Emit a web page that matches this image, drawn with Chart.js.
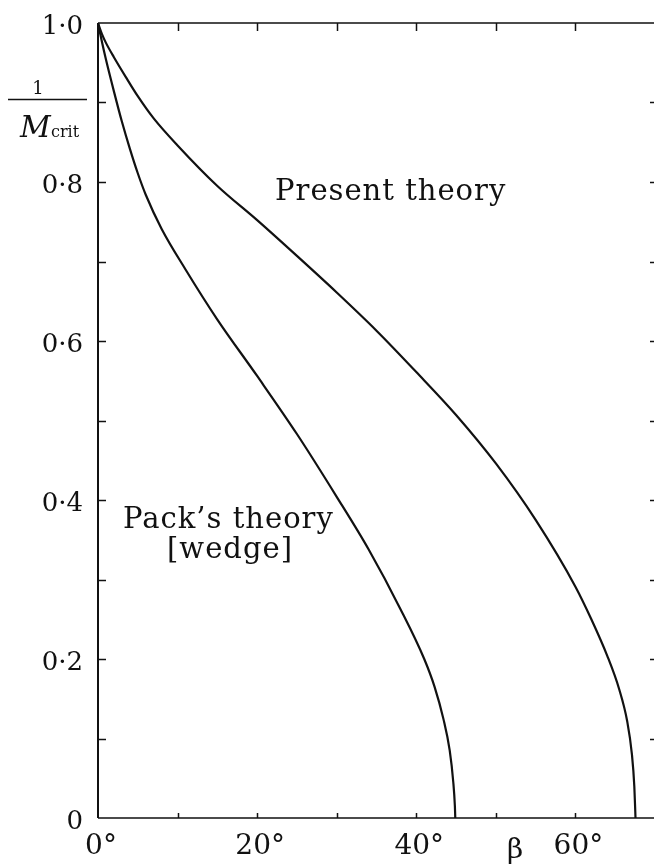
<!DOCTYPE html>
<html>
<head>
<meta charset="utf-8">
<script src="https://cdn.jsdelivr.net/npm/chart.js@4"></script>
<style>
  html, body { margin: 0; padding: 0; background: #fff; overflow: hidden; }
  #wrap { width: 660px; height: 864px; }
</style>
</head>
<body>
<div id="wrap"><canvas id="critChart"></canvas></div>
<script>
// wedge angle beta (deg) vs 1/M_crit
const presentBeta = [0, 0.5, 1, 2, 3.5, 5, 7, 10, 15, 20, 25, 30, 35, 40, 45, 50, 55, 60, 62, 64, 65.5, 66.5, 67.1, 67.4, 67.55];
const presentInv  = [1.0, 0.986, 0.975, 0.957, 0.932, 0.908, 0.880, 0.846, 0.795, 0.752, 0.707, 0.661, 0.613, 0.561, 0.507, 0.446, 0.375, 0.291, 0.250, 0.204, 0.162, 0.122, 0.080, 0.040, 0];

const packBeta = [0, 0.5, 1, 2, 3, 4, 5, 6, 8, 11, 15, 20, 25, 30, 34, 38, 41, 42.3, 43.4, 44.2, 44.65, 44.85, 44.9];
const packInv  = [1.0, 0.976, 0.954, 0.914, 0.876, 0.842, 0.811, 0.784, 0.741, 0.690, 0.627, 0.556, 0.483, 0.404, 0.338, 0.263, 0.200, 0.165, 0.125, 0.085, 0.045, 0.015, 0];

const xTickValues = [0, 20, 40, 60];
const yTickValues = [0, 0.2, 0.4, 0.6, 0.8, 1.0];

const serif = "'DejaVu Serif', serif";
const ink = "#111";

function toPoints(xs, ys) {
    return xs.map((x, i) => ({ x: x, y: ys[i] }));
}

// frame, inward ticks and the hand lettering
const annotate = {
    id: "annotate",
    afterDatasetsDraw(chart) {
        const ctx = chart.ctx;
        const a = chart.chartArea;
        const xs = chart.scales.x;
        const ys = chart.scales.y;
        ctx.save();
        ctx.strokeStyle = ink;

        // frame
        ctx.lineWidth = 2;
        ctx.beginPath();
        ctx.moveTo(a.left, a.top);
        ctx.lineTo(a.left, a.bottom);
        ctx.stroke();
        ctx.lineWidth = 1.5;
        ctx.beginPath();
        ctx.moveTo(a.left, a.bottom);
        ctx.lineTo(a.right, a.bottom);
        ctx.moveTo(a.left, a.top);
        ctx.lineTo(a.right, a.top);
        ctx.moveTo(a.right, a.top);
        ctx.lineTo(a.right, a.bottom);
        ctx.stroke();

        // ticks every 10 deg and every 0.1
        ctx.beginPath();
        for (let v = 10; v < xs.max; v += 10) {
            const px = Math.round(xs.getPixelForValue(v)) + 0.5;
            ctx.moveTo(px, a.bottom);
            ctx.lineTo(px, a.bottom - 5);
            ctx.moveTo(px, a.top);
            ctx.lineTo(px, a.top + 8);
        }
        for (let i = 1; i < 10; i++) {
            const py = Math.round(ys.getPixelForValue(i / 10)) + 0.5;
            ctx.moveTo(a.left, py);
            ctx.lineTo(a.left + 8, py);
            ctx.moveTo(a.right, py);
            ctx.lineTo(a.right - 5, py);
        }
        ctx.stroke();

        // y axis title: 1 / M_crit
        ctx.fillStyle = ink;
        ctx.textBaseline = "alphabetic";
        ctx.textAlign = "center";
        ctx.font = "18px " + serif;
        ctx.fillText("1", 38, 94);
        ctx.beginPath();
        ctx.moveTo(8, 99.5);
        ctx.lineTo(87, 99.5);
        ctx.stroke();
        ctx.textAlign = "left";
        ctx.font = "italic 30px " + serif;
        ctx.fillText("M", 20, 137);
        ctx.font = "16px " + serif;
        ctx.fillText("crit", 51, 137);

        // beta on the x axis
        ctx.textAlign = "center";
        ctx.font = "28px " + serif;
        ctx.fillText("β", 515, 858);

        // curve labels
        ctx.letterSpacing = "1px";
        ctx.textAlign = "left";
        ctx.font = "29px " + serif;
        ctx.fillText("Present theory", 275, 200);
        ctx.fillText("Pack\u2019s theory", 123, 528);
        ctx.textAlign = "center";
        ctx.fillText("[wedge]", 230, 558);
        ctx.restore();
    }
};

new Chart(document.getElementById("critChart"), {
    type: "line",
    data: {
        datasets: [
            {
                label: "Present theory",
                data: toPoints(presentBeta, presentInv),
                borderColor: ink,
                borderWidth: 2.2,
                pointRadius: 0,
                cubicInterpolationMode: "monotone",
                fill: false
            },
            {
                label: "Pack's theory (wedge)",
                data: toPoints(packBeta, packInv),
                borderColor: ink,
                borderWidth: 2.2,
                pointRadius: 0,
                cubicInterpolationMode: "monotone",
                fill: false
            }
        ]
    },
    options: {
        responsive: true,
        maintainAspectRatio: false,
        animation: false,
        layout: { autoPadding: false, padding: { top: 23, right: 5, left: 0, bottom: 0 } },
        plugins: {
            legend: { display: false },
            tooltip: { enabled: false }
        },
        scales: {
            x: {
                type: "linear",
                min: 0,
                max: 70,
                grid: { display: false },
                border: { display: false },
                afterBuildTicks: (scale) => {
                    scale.ticks = xTickValues.map(v => ({ value: v }));
                },
                afterFit: (scale) => { scale.height = 46; },
                ticks: {
                    color: ink,
                    font: { family: serif, size: 28 },
                    padding: 4,
                    labelOffset: 3,
                    maxRotation: 0,
                    callback: (v) => v + "°"
                }
            },
            y: {
                type: "linear",
                min: 0,
                max: 1,
                grid: { display: false },
                border: { display: false },
                afterBuildTicks: (scale) => {
                    scale.ticks = yTickValues.map(v => ({ value: v }));
                },
                afterFit: (scale) => { scale.width = 98; },
                ticks: {
                    color: ink,
                    font: { family: serif, size: 26 },
                    padding: 7,
                    labelOffset: 4,
                    callback: (v) => v === 0 ? "0" : v.toFixed(1).replace(".", "·")
                }
            }
        }
    },
    plugins: [annotate]
});
</script>
</body>
</html>
